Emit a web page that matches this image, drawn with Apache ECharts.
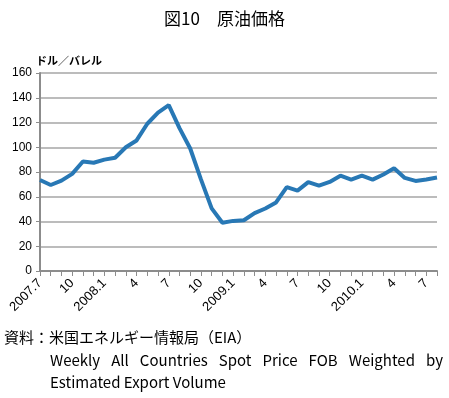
<!DOCTYPE html>
<html>
<head>
<meta charset="UTF-8">
<title>図10 原油価格</title>
<style>
    html, body { margin: 0; padding: 0; background: #FFF; }
    #main { width: 449px; height: 398px; }
</style>
</head>
<body>
<div id="main"></div>
<script src="https://cdn.jsdelivr.net/npm/echarts@6/dist/echarts.min.js"></script>
<script type="text/javascript">
    // 月次カテゴリ (2007.7 - 2010.8)
    var months = ['2007.7', '8', '9', '10', '11', '12',
        '2008.1', '2', '3', '4', '5', '6', '7', '8', '9', '10', '11', '12',
        '2009.1', '2', '3', '4', '5', '6', '7', '8', '9', '10', '11', '12',
        '2010.1', '2', '3', '4', '5', '6', '7', '8'];
    // 原油価格 (ドル／バレル)
    var oilPrice = [73.5, 69.5, 73, 78.5, 88.5, 87.5,
        90, 91.5, 100, 105.5, 119, 128, 134, 115.5, 99, 74, 50.6, 39,
        40.5, 41, 46.8, 50.5, 55.4, 67.8, 65, 71.8, 69, 72, 77, 73.8,
        77, 73.8, 78, 83, 75.2, 72.8, 74, 75.5];
    var yTicks = {min: 0, max: 160, interval: 20};

    var jpFont = '"Noto Sans CJK JP", sans-serif';
    var numFont = '"Liberation Sans", Arial, sans-serif';
    var noteFont = '15px "Noto Sans CJK JP"';

    //注記1行目を両端揃えで並べる
    function justifiedLine(text, x0, x1, top) {
        var ctx = document.createElement('canvas').getContext('2d');
        ctx.font = noteFont;
        var words = text.split(' ');
        var total = 0;
        words.forEach(function (w) { total += ctx.measureText(w).width; });
        var gap = (x1 - x0 - total) / (words.length - 1);
        var x = x0;
        return words.map(function (w) {
            var el = {type: 'text', left: x, top: top, style: {text: w, font: noteFont, fill: '#000'}};
            x += ctx.measureText(w).width + gap;
            return el;
        });
    }

    var graphics = [{
        type: 'text',
        left: 4,
        top: 330,
        style: {text: '資料：米国エネルギー情報局（EIA）', font: noteFont, fill: '#000'}
    }].concat(justifiedLine('Weekly All Countries Spot Price FOB Weighted by', 50, 443, 353), [{
        type: 'text',
        left: 50,
        top: 375,
        style: {text: 'Estimated Export Volume', font: noteFont, fill: '#000'}
    }]);

    var mCharts = echarts.init(document.getElementById('main'));
    var mOptions = {
        animation: false,
        backgroundColor: '#FFF',
        title: {
            text: '図10　原油価格',
            left: 'center',
            top: 5,
            textStyle: {fontFamily: jpFont, fontSize: 17, fontWeight: 'normal', color: '#000'}
        },
        grid: {left: 40, right: 12, top: 73, bottom: 127},
        xAxis: {
            type: 'category',
            boundaryGap: false,
            data: months,
            axisLine: {lineStyle: {color: '#8c8c8c', width: 2}},
            axisTick: {show: true, interval: 0, length: 5, lineStyle: {color: '#8c8c8c', width: 1}},
            axisLabel: {
                interval: 2,
                rotate: 45,
                margin: 10,
                color: '#000',
                fontFamily: numFont,
                fontSize: 13
            },
            splitLine: {show: false}
        },
        yAxis: {
            type: 'value',
            min: yTicks.min,
            max: yTicks.max,
            interval: yTicks.interval,
            name: 'ドル／バレル',
            nameLocation: 'end',
            nameGap: 7,
            nameTextStyle: {fontFamily: jpFont, fontSize: 11, fontWeight: 'bold', color: '#000', align: 'left', padding: [0, 0, 0, -4]},
            axisLine: {show: true, lineStyle: {color: '#8c8c8c', width: 2}},
            axisTick: {show: true, length: 4, lineStyle: {color: '#8c8c8c'}},
            axisLabel: {color: '#000', fontFamily: numFont, fontSize: 12, margin: 8},
            splitLine: {lineStyle: {color: '#a6a6a6', width: 1.5}}
        },
        series: [{
            name: '原油価格',
            type: 'line',
            data: oilPrice,
            symbol: 'none',
            lineStyle: {color: '#2878b5', width: 4},
            itemStyle: {color: '#2878b5'}
        }],
        graphic: graphics
    };
    mCharts.setOption(mOptions);
</script>
</body>
</html>
